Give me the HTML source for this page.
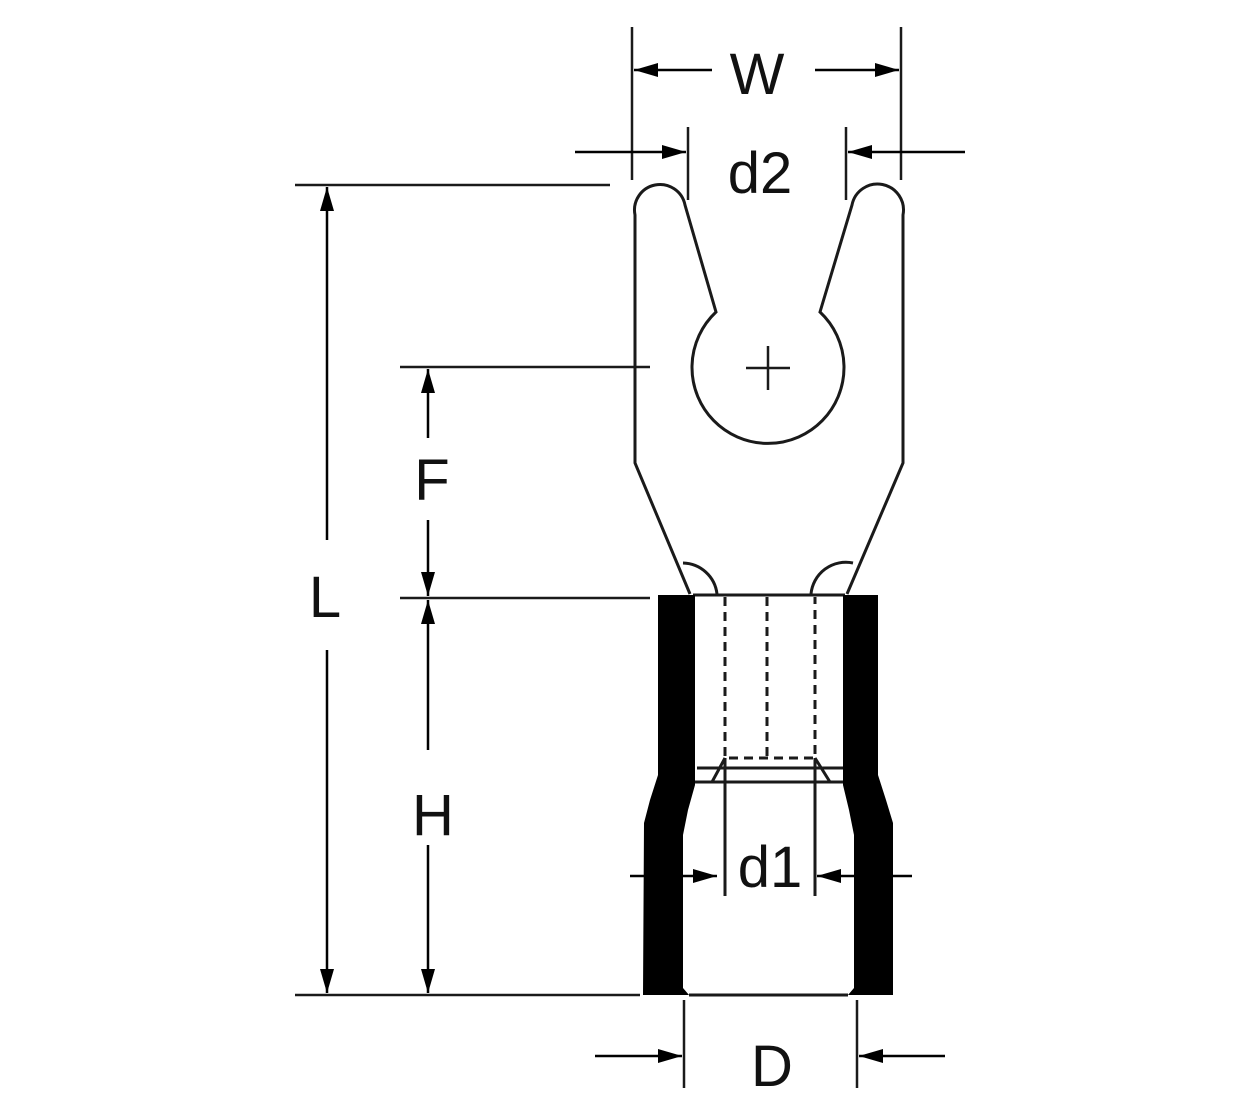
<!DOCTYPE html>
<html><head><style>html,body{margin:0;padding:0;background:#fff}</style></head><body>
<svg width="1250" height="1110" viewBox="0 0 1250 1110" xmlns="http://www.w3.org/2000/svg">
<defs>
<marker id="a" viewBox="0 0 24 14" refX="24" refY="7" markerWidth="24" markerHeight="14" markerUnits="userSpaceOnUse" orient="auto"><path d="M0,0 L24,7 L0,14 z" fill="#000"/></marker>
</defs>
<g fill="none" stroke="#1a1a1a" stroke-width="3">
<path d="M690,594 L635,463 L635,215 A25,25 0 0 1 685,205 L716,312 A76,76 0 1 0 820,312 L852,205 A25,25 0 0 1 903,215 L903,463 L847,594"/>
<path d="M683,563 A35,35 0 0 1 717,594"/>
<path d="M853,563 A35,35 0 0 0 811,594"/>
<path d="M746,368 H790 M768,346 V390" stroke-width="2.5"/>
<path d="M693,595 H845"/>
<path d="M725,597 V758 H815 V597 M767,597 V758" stroke-dasharray="9,6"/>
<path d="M697,768 H843 M695,782 H843 M725,758 L712,782 M815,758 L830,782 M725,758 V896 M815,758 V896 M689,995 H848"/>
<path d="M632,27 V180 M901,27 V180 M688,127 V200 M846,127 V200 M684,1000 V1088 M857,1000 V1088" stroke-width="2.5"/>
<path d="M295,185 H610 M295,995 H640 M400,367 H650 M400,598 H650" stroke-width="2.5"/>
</g>
<g stroke="#000" stroke-width="2.5" fill="none">
<line x1="712" y1="70" x2="634" y2="70" marker-end="url(#a)"/>
<line x1="815" y1="70" x2="899" y2="70" marker-end="url(#a)"/>
<line x1="575" y1="152" x2="686" y2="152" marker-end="url(#a)"/>
<line x1="965" y1="152" x2="848" y2="152" marker-end="url(#a)"/>
<line x1="327" y1="540" x2="327" y2="187" marker-end="url(#a)"/>
<line x1="327" y1="650" x2="327" y2="993" marker-end="url(#a)"/>
<line x1="428" y1="438" x2="428" y2="369" marker-end="url(#a)"/>
<line x1="428" y1="520" x2="428" y2="596" marker-end="url(#a)"/>
<line x1="428" y1="750" x2="428" y2="600" marker-end="url(#a)"/>
<line x1="428" y1="845" x2="428" y2="993" marker-end="url(#a)"/>
<line x1="630" y1="876" x2="717" y2="876" marker-end="url(#a)"/>
<line x1="912" y1="876" x2="817" y2="876" marker-end="url(#a)"/>
<line x1="595" y1="1056" x2="682" y2="1056" marker-end="url(#a)"/>
<line x1="945" y1="1056" x2="859" y2="1056" marker-end="url(#a)"/>
</g>
<path fill="#000" d="M658,595 L695,595 L695,785 L688,810 L683,835 L683,988 L689,995 L643,995 L644,823 L650,800 L658,775 Z"/>
<path fill="#000" d="M843,595 L878,595 L878,775 L886,800 L893,823 L893,995 L848,995 L854,988 L854,835 L849,810 L843,785 Z"/>
<g font-family="Liberation Sans, sans-serif" font-size="58" text-anchor="middle" fill="#111">
<text x="757" y="94">W</text>
<text x="760" y="193">d2</text>
<text x="325" y="617">L</text>
<text x="432" y="500">F</text>
<text x="433" y="835">H</text>
<text x="770" y="887">d1</text>
<text x="772" y="1086">D</text>
</g>
</svg>
</body></html>
